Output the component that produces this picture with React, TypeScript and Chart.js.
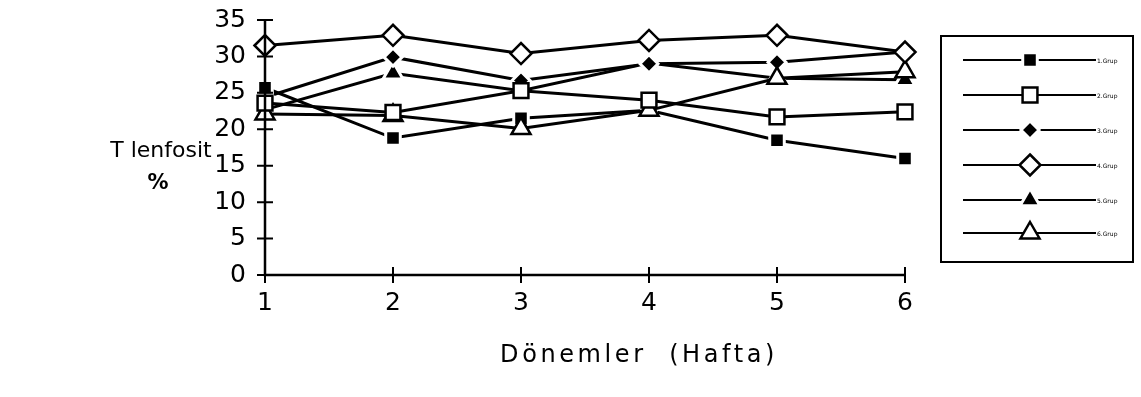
import React, { useEffect, useRef } from "react";
import { Chart, registerables } from "chart.js";

Chart.register(...registerables);

const periods = ["1", "2", "3", "4", "5", "6"];
const yTicks = [0, 5, 10, 15, 20, 25, 30, 35];
const groupLabels = ["1.Grup", "2.Grup", "3.Grup", "4.Grup", "5.Grup", "6.Grup"];

const grup1 = [25.7, 18.8, 21.5, 22.6, 18.5, 16.0];
const grup2 = [23.6, 22.3, 25.3, 24.0, 21.7, 22.4];
const grup3 = [24.4, 29.9, 26.7, 29.0, 29.2, 30.6];
const grup4 = [31.5, 32.9, 30.4, 32.2, 32.9, 30.6];
const grup5 = [22.7, 27.7, 25.3, 29.1, 27.0, 26.8];
const grup6 = [22.1, 21.9, 20.1, 22.6, 27.0, 27.9];

const FONT = "'DejaVu Sans', sans-serif";

type Style = { pointStyle: string; radius: number; filled: boolean };
const styles: Style[] = [
  { pointStyle: "rect", radius: 10.3, filled: true },
  { pointStyle: "rect", radius: 10.5, filled: false },
  { pointStyle: "rectRot", radius: 9, filled: true },
  { pointStyle: "rectRot", radius: 10.5, filled: false },
  { pointStyle: "triangle", radius: 11.5, filled: true },
  { pointStyle: "triangle", radius: 11, filled: false },
];

function drawMarker(ctx: CanvasRenderingContext2D, st: Style, x: number, y: number) {
  const r = st.radius;
  ctx.beginPath();
  if (st.pointStyle === "rect") {
    const s = r / Math.SQRT2;
    ctx.rect(x - s, y - s, 2 * s, 2 * s);
  } else if (st.pointStyle === "rectRot") {
    ctx.moveTo(x, y - r);
    ctx.lineTo(x + r, y);
    ctx.lineTo(x, y + r);
    ctx.lineTo(x - r, y);
    ctx.closePath();
  } else {
    ctx.moveTo(x, y - r);
    ctx.lineTo(x + r * 0.866, y + r * 0.5);
    ctx.lineTo(x - r * 0.866, y + r * 0.5);
    ctx.closePath();
  }
  ctx.fillStyle = st.filled ? "#000" : "#fff";
  ctx.fill();
  ctx.lineWidth = st.filled ? 3 : 2.5;
  ctx.strokeStyle = st.filled ? "#fff" : "#000";
  ctx.stroke();
}

const extrasPlugin = {
  id: "extras",
  afterDraw(chart: any) {
    const ctx: CanvasRenderingContext2D = chart.ctx;
    const xs = chart.scales.x;
    const ys = chart.scales.y;
    const area = chart.chartArea;
    ctx.save();
    ctx.strokeStyle = "#000";
    ctx.lineWidth = 2.5;
    // axes
    ctx.beginPath();
    ctx.moveTo(area.left, ys.getPixelForValue(35));
    ctx.lineTo(area.left, ys.getPixelForValue(0));
    ctx.lineTo(area.right, ys.getPixelForValue(0));
    ctx.stroke();
    // crossing tick marks
    ctx.lineWidth = 2;
    ctx.beginPath();
    yTicks.forEach((v) => {
      const py = ys.getPixelForValue(v);
      ctx.moveTo(area.left - 8, py);
      ctx.lineTo(area.left + 8, py);
    });
    periods.forEach((_, i) => {
      const px = xs.getPixelForValue(i);
      const py = ys.getPixelForValue(0);
      ctx.moveTo(px, py - 8);
      ctx.lineTo(px, py + 8);
    });
    ctx.stroke();

    // titles
    ctx.fillStyle = "#000";
    ctx.textBaseline = "middle";
    ctx.textAlign = "center";
    ctx.font = `22px ${FONT}`;
    ctx.fillText("T lenfosit", 161, 151);
    ctx.font = `bold 21px ${FONT}`;
    ctx.fillText("%", 158, 184);
    ctx.font = `24px ${FONT}`;
    (ctx as any).letterSpacing = "3.6px";
    ctx.fillText("Dönemler  (Hafta)", 639, 356);
    (ctx as any).letterSpacing = "0px";

    // legend
    const bx = 941, by = 36, bw = 192, bh = 226;
    ctx.strokeStyle = "#000";
    ctx.lineWidth = 2;
    ctx.strokeRect(bx, by, bw, bh);
    const rows = [60, 95, 130, 165, 200, 233];
    groupLabels.forEach((lab, i) => {
      const ry = rows[i];
      ctx.beginPath();
      ctx.strokeStyle = "#000";
      ctx.lineWidth = 2;
      ctx.moveTo(963, ry);
      ctx.lineTo(1096, ry);
      ctx.stroke();
      drawMarker(ctx, styles[i], 1030, ry);
      ctx.fillStyle = "#000";
      ctx.font = `6px ${FONT}`;
      ctx.textAlign = "left";
      ctx.fillText(lab, 1097, ry + 1);
    });
    ctx.restore();
  },
};

export default function App() {
  const ref = useRef<HTMLCanvasElement | null>(null);
  useEffect(() => {
    if (!ref.current) return;
    const series = [grup1, grup2, grup3, grup4, grup5, grup6];
    const chart = new Chart(ref.current, {
      type: "line",
      data: {
        labels: periods,
        datasets: series.map((d, i) => ({
          label: groupLabels[i],
          data: d,
          order: styles[i].filled ? 1 : 0,
          borderColor: "#000",
          borderWidth: 3,
          pointStyle: styles[i].pointStyle as any,
          pointRadius: styles[i].radius,
          pointBackgroundColor: styles[i].filled ? "#000" : "#fff",
          pointBorderColor: styles[i].filled ? "#fff" : "#000",
          pointBorderWidth: styles[i].filled ? 3 : 2.5,
          tension: 0,
          fill: false,
        })),
      },
      options: {
        responsive: false,
        animation: false,
        events: [],
        layout: { padding: { top: 20, right: 236, left: 0, bottom: 0 } },
        plugins: { legend: { display: false }, tooltip: { enabled: false } },
        scales: {
          x: {
            type: "category",
            offset: false,
            grid: { display: false, drawTicks: false },
            border: { display: false },
            ticks: { color: "#000", font: { family: FONT, size: 25 }, padding: 13, maxRotation: 0 },
            afterFit: (s: any) => { s.height = 122; s.paddingLeft = 0; s.paddingRight = 0; },
          },
          y: {
            min: 0,
            max: 35,
            grid: { display: false, drawTicks: false },
            border: { display: false },
            ticks: { color: "#000", font: { family: FONT, size: 25 }, stepSize: 5, padding: 19 },
            afterFit: (s: any) => { s.width = 265; s.paddingTop = 0; s.paddingBottom = 0; },
          },
        },
      },
      plugins: [extrasPlugin],
    });
    return () => chart.destroy();
  }, []);
  return (
    <div style={{ position: "absolute", left: 0, top: 0, width: 1141, height: 397, background: "#fff" }}>
      <canvas ref={ref} width={1141} height={397} />
    </div>
  );
}
